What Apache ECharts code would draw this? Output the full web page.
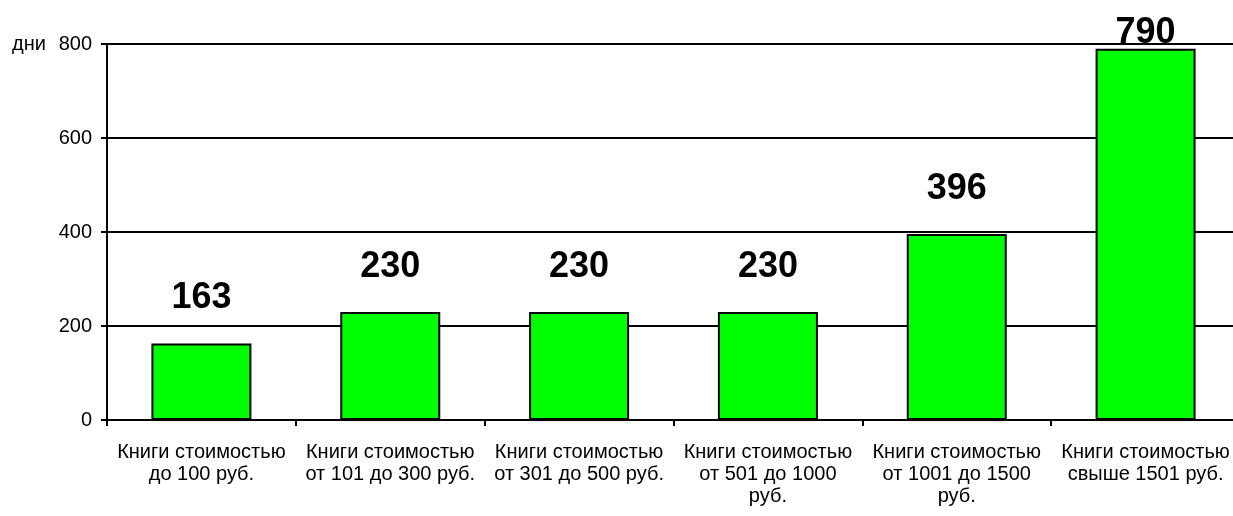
<!DOCTYPE html>
<html>
<head>
<meta charset="utf-8">
<script src="https://cdn.jsdelivr.net/npm/echarts@6/dist/echarts.min.js"></script>
<style>
    html, body { margin: 0; padding: 0; background: #fff; }
    #chart { width: 1233px; height: 516px; }
</style>
</head>
<body>
<div id="chart"></div>
<script>
    // категории цен и средний срок (дни)
    const categories = [
        'Книги стоимостью\nдо 100 руб.',
        'Книги стоимостью\nот 101 до 300 руб.',
        'Книги стоимостью\nот 301 до 500 руб.',
        'Книги стоимостью\nот 501 до 1000\nруб.',
        'Книги стоимостью\nот 1001 до 1500\nруб.',
        'Книги стоимостью\nсвыше 1501 руб.'
    ];
    const days = [163, 230, 230, 230, 396, 790];
    const yTicks = [0, 200, 400, 600, 800];

    const font = 'Arial, "Liberation Sans", sans-serif';
    let chart = echarts.init(document.getElementById('chart'));

    // подпись последнего столбца прижата к столбцу, как в исходнике
    let barData = days.map((v, i) => {
        if (i === days.length - 1) {
            return { value: v, label: { distance: -2 } };
        }
        return v;
    });

    let option = {
        animation: false,
        title: {
            text: 'дни',
            left: 12,
            top: 34,
            padding: 0,
            textStyle: { fontFamily: font, fontSize: 20, fontWeight: 'normal', color: '#000' }
        },
        grid: { left: 107, width: 1133, top: 44, bottom: 96, outerBoundsMode: 'none', containLabel: false },
        xAxis: {
            type: 'category',
            data: categories,
            axisLine: { lineStyle: { color: '#000', width: 2 } },
            axisTick: { show: true, length: 6, lineStyle: { color: '#000', width: 2 } },
            axisLabel: {
                interval: 0,
                margin: 21,
                color: '#000',
                fontFamily: font,
                fontSize: 20,
                lineHeight: 22,
                align: 'center'
            }
        },
        yAxis: {
            type: 'value',
            min: yTicks[0],
            max: yTicks[yTicks.length - 1],
            interval: 200,
            axisLine: { show: true, lineStyle: { color: '#000', width: 2 } },
            axisTick: { show: true, length: 6, lineStyle: { color: '#000', width: 2 } },
            axisLabel: { margin: 15, color: '#000', fontFamily: font, fontSize: 20 },
            splitLine: { lineStyle: { color: '#000', width: 2 } }
        },
        series: [
            {
                type: 'bar',
                data: barData,
                barWidth: 100,
                itemStyle: { color: '#00ff00', borderColor: '#000', borderWidth: 2 },
                label: {
                    show: true,
                    position: 'top',
                    distance: 27,
                    color: '#000',
                    fontFamily: font,
                    fontSize: 36,
                    fontWeight: 'bold'
                }
            }
        ]
    };
    chart.setOption(option);
</script>
</body>
</html>
